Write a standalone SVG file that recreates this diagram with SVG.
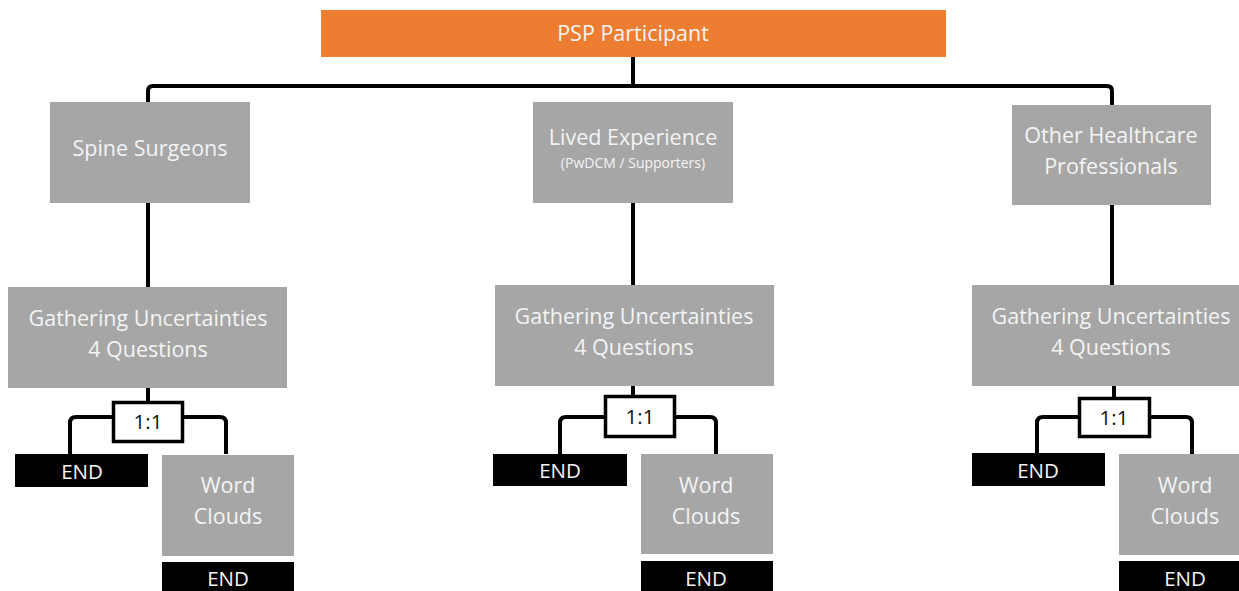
<svg xmlns="http://www.w3.org/2000/svg" width="1239" height="591" viewBox="0 0 1239 591">
<style>
.bg{fill:#ffffff}
.orange{fill:#ed7d31}
.grey{fill:#a6a6a6}
.black{fill:#000000}
.ratio{fill:#ffffff;stroke:#000000;stroke-width:3.5}
.t{font-family:"Open Sans","Liberation Sans",sans-serif;fill:#f4f4f4;text-anchor:middle}
.big{font-size:21.5px}
.mid{font-size:20.5px}
.small{font-size:14px}
.dark{fill:#111111}
.conn{fill:none;stroke:#000000;stroke-width:4;stroke-linejoin:round}
</style>
<rect class="bg" x="0" y="0" width="1239" height="591"/>
<g id="connectors">
  <path class="conn" d="M633 57 V86"/>
  <path class="conn" d="M148 102 V91 Q148 86 153 86 H1107 Q1112 86 1112 91 V105"/>
  <path class="conn" d="M148 203 V287"/>
  <path class="conn" d="M633 203 V285"/>
  <path class="conn" d="M1112 205 V285"/>
  <path class="conn" d="M148 388 V402"/>
  <path class="conn" d="M633 386 V396"/>
  <path class="conn" d="M1114 386 V398"/>
  <path class="conn" d="M113 417 H76 Q70 417 70 423 V454"/>
  <path class="conn" d="M183 417 H220 Q226 417 226 423 V454"/>
  <path class="conn" d="M604 417 H566 Q560 417 560 423 V454"/>
  <path class="conn" d="M676 417 H710 Q716 417 716 423 V454"/>
  <path class="conn" d="M1078 417 H1043 Q1037 417 1037 423 V453"/>
  <path class="conn" d="M1151 417 H1186 Q1192 417 1192 423 V454"/>
</g>
<g id="psp">
  <rect class="orange" x="321" y="10" width="625" height="47"/>
  <text class="t big" x="633" y="41">PSP Participant</text>
</g>
<g id="spine">
  <rect class="grey" x="50" y="102" width="200" height="101"/>
  <text class="t big" x="150" y="156">Spine Surgeons</text>
</g>
<g id="lived">
  <rect class="grey" x="533" y="102" width="200" height="101"/>
  <text class="t big" x="633" y="145">Lived Experience</text>
  <text class="t small" x="633" y="168">(PwDCM / Supporters)</text>
</g>
<g id="other">
  <rect class="grey" x="1012" y="105" width="199" height="100"/>
  <text class="t big" x="1111" y="143">Other Healthcare</text>
  <text class="t big" x="1111" y="174">Professionals</text>
</g>
<g id="gather1">
  <rect class="grey" x="8" y="287" width="279" height="101"/>
  <text class="t big" x="148" y="326">Gathering Uncertainties</text>
  <text class="t big" x="148" y="357">4 Questions</text>
</g>
<g id="gather2">
  <rect class="grey" x="495" y="285" width="279" height="101"/>
  <text class="t big" x="634" y="324">Gathering Uncertainties</text>
  <text class="t big" x="634" y="355">4 Questions</text>
</g>
<g id="gather3">
  <rect class="grey" x="972" y="285" width="279" height="101"/>
  <text class="t big" x="1111" y="324">Gathering Uncertainties</text>
  <text class="t big" x="1111" y="355">4 Questions</text>
</g>
<g id="ratio1">
  <rect class="ratio" x="113.5" y="402.5" width="69" height="39"/>
  <text class="t mid dark" x="148" y="429">1:1</text>
</g>
<g id="ratio2">
  <rect class="ratio" x="605.5" y="396.5" width="69" height="40"/>
  <text class="t mid dark" x="640" y="424">1:1</text>
</g>
<g id="ratio3">
  <rect class="ratio" x="1079.5" y="398.5" width="70" height="38"/>
  <text class="t mid dark" x="1114" y="425">1:1</text>
</g>
<g id="end1a">
  <rect class="black" x="15" y="454" width="133" height="33"/>
  <text class="t mid" x="82" y="479">END</text>
</g>
<g id="end2a">
  <rect class="black" x="493" y="454" width="134" height="32"/>
  <text class="t mid" x="560" y="478">END</text>
</g>
<g id="end3a">
  <rect class="black" x="972" y="453" width="133" height="33"/>
  <text class="t mid" x="1038" y="478">END</text>
</g>
<g id="word1">
  <rect class="grey" x="162" y="455" width="132" height="101"/>
  <text class="t big" x="228" y="493">Word</text>
  <text class="t big" x="228" y="524">Clouds</text>
</g>
<g id="word2">
  <rect class="grey" x="641" y="454" width="132" height="100"/>
  <text class="t big" x="706" y="493">Word</text>
  <text class="t big" x="706" y="524">Clouds</text>
</g>
<g id="word3">
  <rect class="grey" x="1119" y="454" width="132" height="101"/>
  <text class="t big" x="1185" y="493">Word</text>
  <text class="t big" x="1185" y="524">Clouds</text>
</g>
<g id="end1b">
  <rect class="black" x="162" y="562" width="132" height="29"/>
  <text class="t mid" x="228" y="586">END</text>
</g>
<g id="end2b">
  <rect class="black" x="641" y="561" width="132" height="30"/>
  <text class="t mid" x="706" y="586">END</text>
</g>
<g id="end3b">
  <rect class="black" x="1119" y="561" width="132" height="30"/>
  <text class="t mid" x="1185" y="586">END</text>
</g>
</svg>
